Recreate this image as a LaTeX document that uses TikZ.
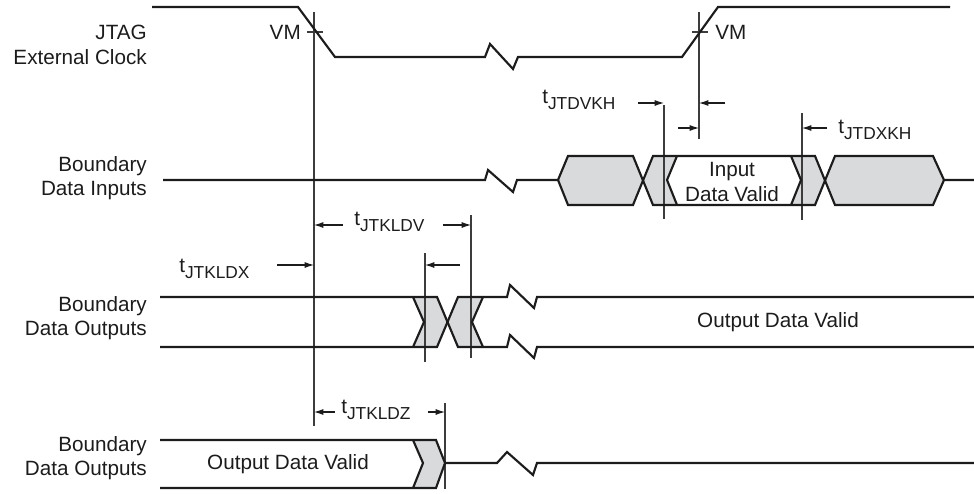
\documentclass[tikz,border=0pt]{standalone}
\usepackage{fontspec}
\setmainfont{Liberation Sans}
\usetikzlibrary{arrows.meta}
\definecolor{shd}{RGB}{217,218,220}
\definecolor{sigc}{RGB}{28,28,28}
\definecolor{refc}{RGB}{60,60,60}
\newcommand{\tlab}[1]{t\raisebox{-5pt}{\fontsize{13}{13}\selectfont #1}}
\begin{document}
\begin{tikzpicture}[x=0.75pt,y=-0.75pt,
  sig/.style={line width=1.6pt, draw=sigc, line join=miter, miter limit=3},
  refline/.style={line width=0.8pt, draw=refc},
  dimarrow/.style={line width=0.8pt, draw=sigc, -{Latex[length=7pt,width=4.5pt]}},
  shade/.style={fill=shd},
  lbl/.style={font=\fontsize{15.5}{18.5}\selectfont, inner sep=0pt, text=sigc},
  side/.style={lbl, align=right, anchor=east}]
\useasboundingbox (0,0) rectangle (974,493);

% ---------- left labels ----------
\node[side] (lclk) at (147,45) {JTAG\\External Clock};
\node[side] (lin)  at (147,178) {Boundary\\Data Inputs};
\node[side] (lout1) at (147,318) {Boundary\\Data Outputs};
\node[side] (lout2) at (147,458) {Boundary\\Data Outputs};

% ---------- shaded regions ----------
\fill[shade] (558,180) -- (568,156) -- (633,156) -- (643,180) -- (633,205) -- (568,205) -- cycle;
\fill[shade] (643,180) -- (653,156) -- (677,156) -- (667,180) -- (677,205) -- (653,205) -- cycle;
\fill[shade] (791,156) -- (815,156) -- (825,180) -- (815,205) -- (791,205) -- (801,180) -- cycle;
\fill[shade] (825,180) -- (835,156) -- (933,156) -- (944,180) -- (933,205) -- (835,205) -- cycle;

\fill[shade] (413,297) -- (437,297) -- (448,322) -- (437,347) -- (413,347) -- (424,322) -- cycle;
\fill[shade] (448,322) -- (458,297) -- (483,297) -- (472,322) -- (483,347) -- (458,347) -- cycle;

\fill[shade] (413,440) -- (436,440) -- (445,463) -- (436,488) -- (413,488) -- (423,463) -- cycle;

% ---------- reference (vertical) lines ----------
\draw[refline] (314,12) -- (314,426);
\draw[refline] (307,32) -- (323,32);
\draw[refline] (699,12) -- (699,139);
\draw[refline] (692,32) -- (708,32);
\draw[refline] (664,105) -- (664,219);
\draw[refline] (802,113) -- (802,220);
\draw[refline] (471,215) -- (471,358);
\draw[refline] (425,253) -- (425,362);
\draw[refline] (445,403) -- (445,489);

% ---------- clock ----------
\draw[sig] (152,7) -- (298,7) -- (335,57) -- (485,57) -- (490,44) -- (513,69) -- (518,57)
  -- (682,57) -- (718,7) -- (950,7);
\node[lbl, anchor=east] (vm1) at (301,32) {VM};
\node[lbl, anchor=west] (vm2) at (715,32) {VM};

% ---------- boundary data inputs ----------
\draw[sig] (163,180) -- (485,180) -- (488,170) -- (513,192) -- (517,180) -- (558,180);
\draw[sig] (558,180) -- (568,156) -- (633,156) -- (653,205) -- (815,205) -- (835,156) -- (933,156) -- (944,180) -- (974,180);
\draw[sig] (558,180) -- (568,205) -- (633,205) -- (653,156) -- (815,156) -- (835,205) -- (933,205) -- (944,180);
\draw[sig] (677,156) -- (667,180) -- (677,205);
\draw[sig] (791,156) -- (801,180) -- (791,205);
\node[lbl, align=center] (idv) at (732,182) {Input\\Data Valid};

% ---------- boundary data outputs (middle) ----------
\draw[sig] (160,297) -- (437,297) -- (458,347) -- (507,347) -- (510,335) -- (534,358) -- (537,347) -- (974,347);
\draw[sig] (160,347) -- (437,347) -- (458,297) -- (507,297) -- (510,285) -- (534,308) -- (537,297) -- (974,297);
\draw[sig] (413,297) -- (424,322) -- (413,347);
\draw[sig] (483,297) -- (472,322) -- (483,347);
\node[lbl] (odv1) at (778,322) {Output Data Valid};

% ---------- boundary data outputs (bottom) ----------
\draw[sig] (160,440) -- (436,440) -- (445,463) -- (436,488) -- (160,488);
\draw[sig] (413,440) -- (423,463) -- (413,488);
\draw[sig] (445,463) -- (497,463) -- (507,452) -- (533,475) -- (537,463) -- (974,463);
\node[lbl] (odv2) at (288,464) {Output Data Valid};

% ---------- timing annotations ----------
\node[lbl, anchor=base west] (tdvkh) at (542,103) {\tlab{JTDVKH}};
\draw[dimarrow] (638,103) -- (664,103);
\draw[dimarrow] (725,103) -- (699,103);
\draw[dimarrow] (678,128) -- (699,128);

\node[lbl, anchor=base west] (tdxkh) at (838,133) {\tlab{JTDXKH}};
\draw[dimarrow] (827,128) -- (802,128);

\node[lbl, anchor=base west] (tkldv) at (354,225) {\tlab{JTKLDV}};
\draw[dimarrow] (343,225) -- (314,225);
\draw[dimarrow] (443,225) -- (471,225);
\draw[dimarrow] (460,265) -- (425,265);

\node[lbl, anchor=base west] (tkldx) at (179,272) {\tlab{JTKLDX}};
\draw[dimarrow] (277,265) -- (314,265);

\node[lbl, anchor=base west] (tkldz) at (341,413) {\tlab{JTKLDZ}};
\draw[dimarrow] (335,412) -- (314,412);
\draw[dimarrow] (428,412) -- (445,412);
\end{tikzpicture}
\end{document}
